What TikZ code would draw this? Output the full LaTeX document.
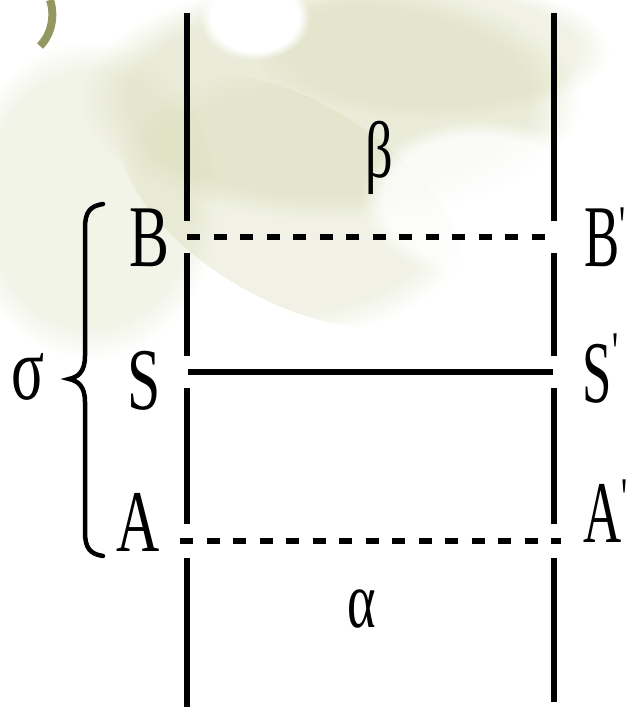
\documentclass[tikz,border=0pt]{standalone}
\usepackage{fontspec}
\setmainfont{Liberation Serif}
\newfontfamily\labelfont{Liberation Serif}
\usetikzlibrary{positioning,fadings}
\definecolor{leaf}{RGB}{214,217,180}
\definecolor{stem}{RGB}{146,152,96}
\tikzset{
    wall/.style={line width=5.5pt},
    face/.style={line width=5.5pt},
    dashface/.style={line width=5.5pt,dash pattern=on 13pt off 13.5pt},
    lbl/.style={inner sep=0pt,font=\labelfont\fontsize{88}{90}\selectfont},
    greek/.style={inner sep=0pt,font=\labelfont\fontsize{80}{90}\selectfont},
    blob/.style={fill=leaf,path fading=circle with fuzzy edge 20 percent}
}
\newcommand{\narrow}[1]{\scalebox{0.68}[1]{#1}}
\newcommand{\narrowR}[1]{\scalebox{0.6}[1]{#1}}
\newcommand{\tick}[1]{\raisebox{#1}{\fontsize{56}{56}\selectfont\textquotesingle}}

\begin{document}
\begin{tikzpicture}[x=1pt,y=-1pt]
    \useasboundingbox (0,0) rectangle (629,707);

    % blurred background
    \fill[blob,opacity=0.5] (330,100) ellipse (250 and 120);
    \fill[blob,opacity=0.35,rotate around={-30:(290,200)}] (290,200) ellipse (190 and 100);
    \fill[blob,opacity=0.3] (90,200) ellipse (130 and 160);
    \fill[blob,opacity=0.35] (430,50) ellipse (180 and 70);
    \fill[white,path fading=circle with fuzzy edge 20 percent] (255,18) ellipse (55 and 42);
    \fill[white,path fading=circle with fuzzy edge 20 percent,opacity=0.8] (480,200) ellipse (120 and 80);
    \draw[stem,line width=8pt] (40,46) .. controls (52,34) and (55,15) .. (50,0);

    % walls
    \coordinate (Ltop) at (187,13);
    \coordinate (Lbot) at (187,707);
    \coordinate (Rtop) at (554,13);
    \coordinate (Rbot) at (554,702);
    \foreach \x/\n in {187/L,554/R}{
        \coordinate (\n1) at (\x,221);
        \coordinate (\n2) at (\x,253);
        \coordinate (\n3) at (\x,356);
        \coordinate (\n4) at (\x,388);
        \coordinate (\n5) at (\x,524);
        \coordinate (\n6) at (\x,558);
    }
    \draw[wall] (Ltop) -- (L1) (L2) -- (L3) (L4) -- (L5) (L6) -- (Lbot);
    \draw[wall] (Rtop) -- (R1) (R2) -- (R3) (R4) -- (R5) (R6) -- (Rbot);

    % planes
    \coordinate (bl) at (187,237);
    \coordinate (br) at (554,237);
    \coordinate (sl) at (188,372);
    \coordinate (sr) at (553,372);
    \coordinate (al) at (180,541);
    \coordinate (ar) at (561,541);
    \draw[dashface] (bl) -- (br);
    \draw[face] (sl) -- (sr);
    \draw[dashface] (al) -- (ar);

    % labels
    \node[lbl,anchor=base west] (B) at (129,266) {\narrow{B}};
    \node[lbl,anchor=base west] (S) at (127,409) {\narrow{S}};
    \node[lbl,anchor=base west] (A) at (116,551) {\narrow{A}};
    \node[lbl,anchor=base west] (B') at (584,266) {\narrowR{B\tick{22pt}}};
    \node[lbl,anchor=base west] (S') at (582,402) {\narrowR{S\kern2pt\tick{32pt}}};
    \node[lbl,anchor=base west] (A') at (583,542) {\narrowR{A\tick{26pt}}};
    \node[greek] (beta) at (379,158) {\narrow{β}};
    \node[greek,anchor=base] (alpha) at (362,627) {\narrow{α}};
    \node[greek,anchor=base,font=\labelfont\fontsize{90}{90}\selectfont] (sigma) at (28,399) {\narrow{σ}};

    % brace
    \coordinate (tip) at (69,379);
    \draw[line width=4.5pt,line cap=round] (103,204) .. controls (90,206) and (85,212) .. (85,228)
        -- (85,356) .. controls (85,372) and (78,377) .. (tip)
        .. controls (78,381) and (85,386) .. (85,402)
        -- (85,532) .. controls (85,548) and (90,554) .. (103,556);
\end{tikzpicture}
\end{document}
